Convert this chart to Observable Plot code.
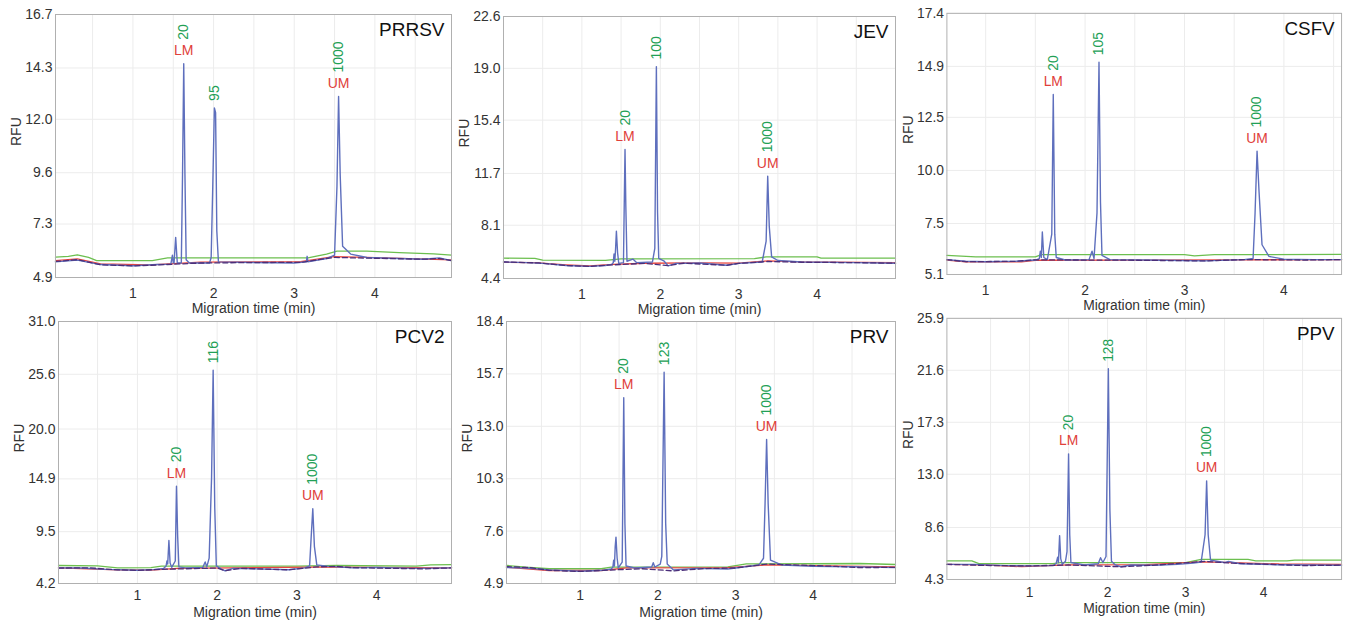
<!DOCTYPE html>
<html><head><meta charset="utf-8">
<script src="https://cdn.jsdelivr.net/npm/d3@7"></script>
<script src="https://cdn.jsdelivr.net/npm/@observablehq/plot@0.6"></script>
<style>
html,body{margin:0;padding:0;background:#fff;}
body{width:1347px;height:620px;overflow:hidden;position:relative;font-family:"Liberation Sans",Arial,sans-serif;}
.panel{position:absolute;}
.panel svg{overflow:visible;}
</style></head><body>
<script>
// ---------- data ----------
const panelNames = ["PRRSV", "JEV", "CSFV", "PCV2", "PRV", "PPV"];
const timeTicks = [1, 2, 3, 4];
const timeGrid = [0.5, 1, 1.5, 2, 2.5, 3, 3.5, 4, 4.5];
const xTitle = "Migration time (min)";
const yTitle = "RFU";

const rfuTicksPRRSV = [4.9, 7.3, 9.6, 12.0, 14.3, 16.7];
const rfuTicksJEV   = [4.4, 8.1, 11.7, 15.4, 19.0, 22.6];
const rfuTicksCSFV  = [5.1, 7.5, 10.0, 12.5, 14.9, 17.4];
const rfuTicksPCV2  = [4.2, 9.5, 14.9, 20.0, 25.6, 31.0];
const rfuTicksPRV   = [4.9, 7.6, 10.3, 13.0, 15.7, 18.4];
const rfuTicksPPV   = [4.3, 8.6, 13.0, 17.3, 21.6, 25.9];

const timeDomainPRRSV = [0.04, 4.95];
const timeDomainJEV   = [0.0, 5.0];
const timeDomainCSFV  = [0.61, 4.58];
const timeDomainPCV2  = [0.01, 4.94];
const timeDomainPRV   = [0.05, 5.06];
const timeDomainPPV   = [-0.06, 5.0];

// peaks: [time, RFU, size (bp), marker]
const peaksPRRSV = [[1.63, 14.49, "20", "LM"], [2.01, 12.51, "95", ""], [3.55, 13.02, "1000", "UM"]];
const peaksJEV   = [[1.55, 13.36, "20", "LM"], [1.95, 19.12, "100", ""], [3.37, 11.5, "1000", "UM"]];
const peaksCSFV  = [[1.68, 13.58, "20", "LM"], [2.14, 15.1, "105", ""], [3.73, 10.91, "1000", "UM"]];
const peaksPCV2  = [[1.49, 14.15, "20", "LM"], [1.95, 26.02, "116", ""], [3.2, 11.84, "1000", "UM"]];
const peaksPRV   = [[1.56, 14.47, "20", "LM"], [2.08, 15.79, "123", ""], [3.4, 12.32, "1000", "UM"]];
const peaksPPV   = [[1.5, 14.69, "20", "LM"], [2.01, 21.73, "128", ""], [3.27, 12.46, "1000", "UM"]];

// sample traces: [time, RFU]
const bluePRRSV = [[0.04,5.6],[0.31,5.68],[0.6,5.48],[1.0,5.43],[1.3,5.48],[1.47,5.5],[1.49,5.9],[1.5,5.55],[1.51,5.55],[1.53,6.7],[1.55,5.55],[1.6,5.55],[1.615,9.5],[1.63,14.49],[1.645,9.5],[1.66,5.7],[1.7,5.55],[1.95,5.55],[1.97,5.8],[1.99,9.0],[2.01,12.51],[2.025,12.3],[2.04,7.0],[2.06,5.6],[2.5,5.57],[3.0,5.55],[3.15,5.6],[3.16,5.85],[3.17,5.6],[3.4,5.75],[3.5,5.9],[3.53,9.0],[3.55,13.02],[3.57,9.5],[3.6,6.3],[3.7,5.95],[3.9,5.8],[4.6,5.72],[4.8,5.78],[4.95,5.66]];
const greenPRRSV = [[0.04,5.81],[0.2,5.85],[0.31,5.92],[0.45,5.8],[0.55,5.66],[1.24,5.66],[1.43,5.78],[3.17,5.78],[3.4,5.95],[3.53,6.08],[3.9,6.08],[4.3,6.02],[4.73,5.96],[4.95,5.9]];
const redPRRSV = [[0.04,5.66],[0.31,5.74],[0.6,5.51],[1.22,5.47],[1.84,5.59],[3.08,5.61],[3.49,5.84],[3.9,5.8],[4.95,5.69]];
const purplePRRSV = [[0.04,5.62],[0.31,5.7],[0.6,5.47],[1.0,5.42],[1.22,5.45],[1.84,5.55],[2.5,5.57],[3.08,5.58],[3.49,5.8],[3.9,5.77],[4.6,5.72],[4.8,5.75],[4.95,5.66]];

const blueJEV = [[0,5.55],[0.3,5.5],[0.5,5.45],[0.8,5.3],[1.1,5.24],[1.3,5.3],[1.38,5.38],[1.4,5.5],[1.41,6.1],[1.42,5.6],[1.43,6.5],[1.44,7.68],[1.455,6.2],[1.47,5.45],[1.53,5.5],[1.54,9.5],[1.55,13.36],[1.56,9.5],[1.575,5.6],[1.65,5.75],[1.7,5.5],[1.9,5.55],[1.93,6.5],[1.95,19.12],[1.965,9.0],[1.98,5.8],[2.05,5.6],[2.1,5.28],[2.2,5.45],[2.5,5.48],[2.85,5.32],[3.0,5.45],[3.3,5.55],[3.35,7.0],[3.37,11.5],[3.39,8.0],[3.42,5.9],[3.5,5.65],[3.8,5.55],[4.5,5.5],[5.0,5.46]];
const greenJEV = [[0,5.81],[0.4,5.8],[0.5,5.68],[1.3,5.66],[1.5,5.76],[3.2,5.78],[3.35,5.9],[4.0,5.9],[4.05,5.81],[5.0,5.81]];
const redJEV = [[0,5.53],[0.4,5.5],[0.8,5.35],[1.1,5.27],[1.4,5.38],[1.8,5.46],[2.5,5.48],[3.0,5.47],[3.37,5.62],[3.8,5.55],[5.0,5.5]];
const purpleJEV = [[0,5.55],[0.45,5.48],[0.8,5.3],[1.1,5.24],[1.4,5.35],[1.8,5.45],[2.1,5.3],[2.3,5.46],[2.85,5.32],[3.0,5.45],[3.37,5.58],[3.8,5.53],[4.5,5.5],[5.0,5.46]];

const blueCSFV = [[0.61,5.8],[0.8,5.72],[1.0,5.7],[1.3,5.72],[1.5,5.78],[1.54,5.85],[1.55,6.2],[1.56,5.9],[1.57,7.1],[1.585,5.9],[1.62,5.8],[1.665,7.0],[1.68,13.58],[1.695,7.0],[1.71,5.9],[1.8,5.78],[2.04,5.8],[2.07,6.2],[2.09,5.85],[2.12,8.0],[2.14,15.1],[2.155,8.5],[2.17,6.0],[2.25,5.8],[2.6,5.78],[3.0,5.76],[3.2,5.74],[3.6,5.8],[3.69,5.85],[3.71,8.0],[3.73,10.91],[3.75,9.0],[3.78,6.5],[3.85,5.95],[4.0,5.82],[4.3,5.8],[4.58,5.8]];
const greenCSFV = [[0.61,6.0],[0.9,5.93],[1.5,5.93],[1.56,6.03],[3.0,6.03],[3.1,5.98],[3.3,6.03],[4.58,6.05]];
const redCSFV = [[0.61,5.78],[0.8,5.7],[1.36,5.69],[1.5,5.77],[2.5,5.78],[3.5,5.79],[4.58,5.8]];
const purpleCSFV = [[0.61,5.8],[0.8,5.7],[1.3,5.72],[1.5,5.79],[2.5,5.77],[3.2,5.74],[3.6,5.8],[4.2,5.78],[4.58,5.8]];

const bluePCV2 = [[0.01,5.8],[0.3,5.78],[0.6,5.65],[1.0,5.56],[1.2,5.62],[1.33,5.75],[1.36,6.0],[1.37,6.5],[1.38,6.2],[1.395,8.6],[1.41,6.3],[1.43,5.85],[1.475,6.5],[1.49,14.15],[1.505,9.0],[1.52,5.9],[1.6,5.8],[1.82,5.85],[1.85,6.4],[1.87,5.9],[1.9,6.8],[1.93,15.0],[1.95,26.02],[1.97,12.0],[1.99,6.0],[2.05,5.7],[2.1,5.5],[2.2,5.75],[2.5,5.7],[2.9,5.6],[3.1,5.8],[3.16,6.0],[3.18,9.0],[3.2,11.84],[3.22,8.0],[3.25,6.1],[3.4,5.95],[3.7,5.8],[4.0,5.85],[4.5,5.75],[4.94,5.8]];
const greenPCV2 = [[0.01,6.04],[0.5,6.0],[0.75,5.8],[1.17,5.82],[1.3,5.97],[3.0,5.98],[3.5,6.04],[4.5,5.97],[4.68,6.1],[4.94,6.14]];
const redPCV2 = [[0.01,5.8],[0.75,5.6],[1.17,5.56],[1.5,5.75],[3.25,5.88],[4.94,5.8]];
const purplePCV2 = [[0.01,5.78],[0.4,5.8],[0.75,5.6],[1.0,5.54],[1.3,5.65],[2.0,5.78],[2.1,5.5],[2.3,5.75],[2.9,5.6],[3.25,5.9],[3.5,5.95],[3.7,5.82],[4.2,5.75],[4.6,5.7],[4.94,5.8]];

const bluePRV = [[0.05,5.72],[0.3,5.7],[0.6,5.6],[1.0,5.53],[1.3,5.58],[1.4,5.65],[1.42,5.75],[1.43,6.1],[1.44,5.8],[1.45,6.8],[1.46,7.29],[1.475,6.2],[1.49,5.7],[1.54,6.0],[1.56,14.47],[1.575,8.0],[1.59,5.8],[1.7,5.7],[1.92,5.75],[1.94,5.97],[1.96,5.75],[2.03,5.9],[2.05,6.3],[2.08,15.79],[2.1,8.0],[2.12,5.9],[2.2,5.6],[2.5,5.68],[2.9,5.65],[3.1,5.75],[3.3,5.85],[3.36,6.2],[3.38,9.0],[3.4,12.32],[3.42,9.0],[3.45,6.1],[3.6,5.85],[4.0,5.78],[4.5,5.76],[5.06,5.72]];
const greenPRV = [[0.05,5.83],[0.3,5.74],[0.6,5.66],[1.27,5.66],[1.4,5.74],[2.9,5.76],[3.14,5.91],[4.6,5.93],[5.06,5.88]];
const redPRV = [[0.05,5.74],[0.6,5.57],[1.27,5.57],[1.6,5.7],[2.9,5.72],[3.4,5.86],[4.0,5.82],[5.06,5.75]];
const purplePRV = [[0.05,5.77],[0.35,5.72],[0.6,5.58],[1.0,5.52],[1.3,5.58],[1.8,5.66],[2.2,5.55],[2.6,5.67],[3.0,5.7],[3.4,5.9],[3.8,5.85],[4.3,5.78],[4.6,5.72],[5.06,5.73]];

const bluePPV = [[-0.06,5.55],[0.3,5.55],[0.7,5.45],[1.0,5.42],[1.3,5.45],[1.34,5.6],[1.36,6.15],[1.37,5.7],[1.385,7.93],[1.4,6.0],[1.42,5.55],[1.46,5.8],[1.48,6.6],[1.5,14.69],[1.515,8.0],[1.53,5.7],[1.7,5.5],[1.88,5.6],[1.91,6.1],[1.94,5.7],[1.98,6.2],[2.01,21.73],[2.03,10.0],[2.05,5.8],[2.1,5.5],[2.17,5.35],[2.3,5.5],[2.6,5.48],[2.9,5.55],[3.1,5.65],[3.2,5.75],[3.25,8.0],[3.27,12.46],[3.29,8.0],[3.32,5.9],[3.5,5.7],[3.55,5.8],[3.7,5.6],[4.2,5.52],[4.6,5.5],[5.0,5.48]];
const greenPPV = [[-0.06,5.83],[0.26,5.83],[0.35,5.61],[1.3,5.61],[1.4,5.7],[3.0,5.7],[3.2,5.96],[3.8,5.96],[3.9,5.83],[4.3,5.83],[4.4,5.9],[5.0,5.9]];
const redPPV = [[-0.06,5.55],[0.4,5.5],[0.9,5.36],[1.5,5.5],[2.5,5.52],[3.2,5.75],[3.5,5.72],[4.2,5.58],[5.0,5.55]];
const purplePPV = [[-0.06,5.55],[0.5,5.45],[1.0,5.42],[1.5,5.5],[2.17,5.35],[2.6,5.48],[3.25,5.8],[3.6,5.65],[4.2,5.52],[4.5,5.45],[5.0,5.48]];

// ---------- assemble ----------
const panels = [
  {name: panelNames[0], ticks: rfuTicksPRRSV, dom: timeDomainPRRSV, peaks: peaksPRRSV, blue: bluePRRSV, green: greenPRRSV, red: redPRRSV, purple: purplePRRSV},
  {name: panelNames[1], ticks: rfuTicksJEV, dom: timeDomainJEV, peaks: peaksJEV, blue: blueJEV, green: greenJEV, red: redJEV, purple: purpleJEV},
  {name: panelNames[2], ticks: rfuTicksCSFV, dom: timeDomainCSFV, peaks: peaksCSFV, blue: blueCSFV, green: greenCSFV, red: redCSFV, purple: purpleCSFV},
  {name: panelNames[3], ticks: rfuTicksPCV2, dom: timeDomainPCV2, peaks: peaksPCV2, blue: bluePCV2, green: greenPCV2, red: redPCV2, purple: purplePCV2},
  {name: panelNames[4], ticks: rfuTicksPRV, dom: timeDomainPRV, peaks: peaksPRV, blue: bluePRV, green: greenPRV, red: redPRV, purple: purplePRV},
  {name: panelNames[5], ticks: rfuTicksPPV, dom: timeDomainPPV, peaks: peaksPPV, blue: bluePPV, green: greenPPV, red: redPPV, purple: purplePPV}
];

// layout (pixels) – positions of each panel on the page
const layout = [
  {left: 0,   top: 0,   w: 457, h: 321, tickPad: 11, titleDy: 31},
  {left: 448, top: 2,   w: 453, h: 320, tickPad: 11, titleDy: 31},
  {left: 892, top: -1,  w: 460, h: 322, tickPad: 11, titleDy: 31},
  {left: 3,   top: 307, w: 454, h: 320, tickPad: 7,  titleDy: 29},
  {left: 451, top: 307, w: 450, h: 320, tickPad: 7,  titleDy: 29},
  {left: 892, top: 304, w: 460, h: 322, tickPad: 8,  titleDy: 29}
];

const FONT = '"Liberation Sans", Arial, Helvetica, sans-serif';
const C = {blue: "#5e6fbd", green: "#6cbf4f", red: "#e8453f", purple: "#4b2f7a",
           numText: "#22a055", markText: "#e0403a", axis: "#333", grid: "#ececec", frame: "#b0b0b0"};

panels.forEach((p, i) => {
  const L = layout[i];
  const X = d => d[0], Y = d => d[1];
  const marked = p.peaks.filter(d => d[3]);
  const unmarked = p.peaks.filter(d => !d[3]);
  const chart = Plot.plot({
    width: L.w, height: L.h,
    marginLeft: 55, marginRight: 6, marginTop: 14, marginBottom: 44,
    style: {background: "transparent", fontFamily: FONT, fontSize: "14px", color: C.axis, overflow: "visible"},
    x: {domain: p.dom, ticks: timeTicks, tickSize: 0, tickPadding: L.tickPad, tickFormat: d => String(d), label: null},
    y: {domain: [p.ticks[0], p.ticks[p.ticks.length - 1]], ticks: p.ticks, tickSize: 0, tickPadding: 3,
        tickFormat: d => d.toFixed(1), label: null},
    marks: [
      Plot.ruleX(timeGrid.filter(t => t > p.dom[0] && t < p.dom[1]), {stroke: C.grid, strokeWidth: 1}),
      Plot.ruleY(p.ticks, {stroke: C.grid, strokeWidth: 1}),
      Plot.line(p.green, {x: X, y: Y, stroke: C.green, strokeWidth: 1.3}),
      Plot.line(p.red, {x: X, y: Y, stroke: C.red, strokeWidth: 1.3}),
      Plot.line(p.blue, {x: X, y: Y, stroke: C.blue, strokeWidth: 1.4}),
      Plot.line(p.purple, {x: X, y: Y, stroke: C.purple, strokeWidth: 1.3, strokeDasharray: "5,3"}),
      Plot.frame({stroke: C.frame}),
      Plot.text(marked, {x: X, y: Y, text: d => d[3], fill: C.markText, fontSize: 14, dy: -13, lineAnchor: "middle"}),
      Plot.text(marked, {x: X, y: Y, text: d => d[2], fill: C.numText, fontSize: 14, rotate: -90,
                         textAnchor: "start", lineAnchor: "middle", dy: -24}),
      Plot.text(unmarked, {x: X, y: Y, text: d => d[2], fill: C.numText, fontSize: 14, rotate: -90,
                           textAnchor: "start", lineAnchor: "middle", dy: -7}),
      Plot.text([p.name], {frameAnchor: "top-right", text: d => d, textAnchor: "end", lineAnchor: "top",
                           dx: -7, dy: 8, fontSize: 19, fill: "#111"}),
      Plot.text([xTitle], {frameAnchor: "bottom", text: d => d, lineAnchor: "middle", dy: L.titleDy, fontSize: 14, fill: C.axis}),
      Plot.text([yTitle], {frameAnchor: "left", text: d => d, rotate: -90, lineAnchor: "middle", dx: -39, fontSize: 14, fill: C.axis})
    ]
  });
  const div = document.createElement("div");
  div.className = "panel";
  div.style.left = L.left + "px";
  div.style.top = L.top + "px";
  div.appendChild(chart);
  document.body.appendChild(div);
});
</script>
</body></html>
